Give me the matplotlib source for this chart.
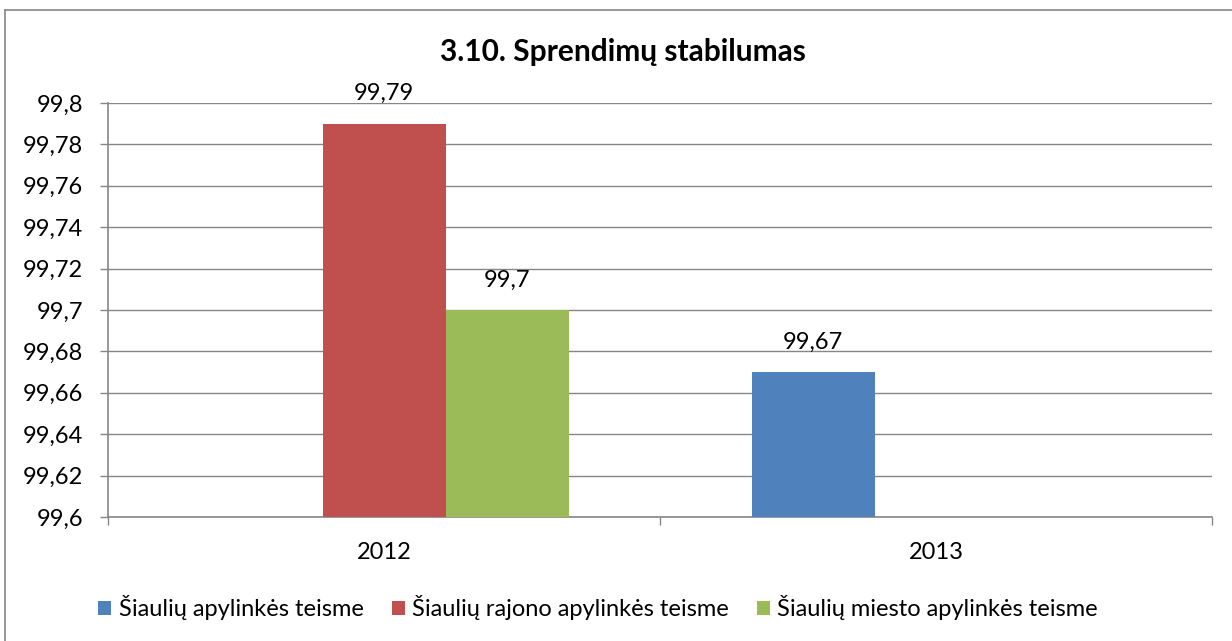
import numpy as np
import matplotlib
matplotlib.use("Agg")
import matplotlib.pyplot as plt
from matplotlib.lines import Line2D
from matplotlib.patches import Patch
from matplotlib.ticker import FixedLocator, FuncFormatter

plt.rcParams['font.family'] = ['Lato', 'DejaVu Sans']

title = "3.10. Sprendimų stabilumas"
categories = ["2012", "2013"]
series_names = ["Šiaulių apylinkės teisme",
                "Šiaulių rajono apylinkės teisme",
                "Šiaulių miesto apylinkės teisme"]
apylinkes = [np.nan, 99.67]
rajono = [99.79, np.nan]
miesto = [99.70, np.nan]
y_ticks = [99.6, 99.62, 99.64, 99.66, 99.68, 99.7, 99.72, 99.74, 99.76, 99.78, 99.8]
colors = ["#4F81BD", "#C0504D", "#9BBB59"]

W, H = 1232, 641
fig = plt.figure(figsize=(W / 100, H / 100), dpi=100)
fig.patch.set_facecolor("white")

# outer chart border (cropped on right/bottom)
grid_col = "#868686"
fig.add_artist(Line2D([5 / W, 1.0], [1 - 10 / H, 1 - 10 / H], transform=fig.transFigure,
                      color=grid_col, lw=1.2))
fig.add_artist(Line2D([5 / W, 5 / W], [0, 1 - 10 / H], transform=fig.transFigure,
                      color=grid_col, lw=1.2))

ax = fig.add_axes([108 / W, (H - 517) / H, 1104 / W, 414 / H])
x = np.arange(len(categories))
bw = 123 / 552
all_series = [apylinkes, rajono, miesto]
for i, (vals, c) in enumerate(zip(all_series, colors)):
    xs = x + (i - 1) * bw
    ax.bar(xs, vals, width=bw, color=c, zorder=3, linewidth=0)
    for xx, v in zip(xs, vals):
        if np.isfinite(v):
            ax.annotate(f"{v:g}".replace(".", ","), (xx, v), xytext=(0, 17),
                        textcoords="offset points", ha="center", va="baseline",
                        fontsize=17, color="black")

ax.set_xlim(-0.5, len(categories) - 0.5)
ax.set_ylim(y_ticks[0], y_ticks[-1])

ax.yaxis.set_major_locator(FixedLocator(y_ticks))
ax.yaxis.set_major_formatter(FuncFormatter(
    lambda v, p: (f"{v:.2f}".rstrip("0").rstrip(".")).replace(".", ",")))
ax.grid(axis="y", color=grid_col, lw=1.0, zorder=0)

ax.set_xticks(x)
ax.set_xticklabels(categories)
ax.set_xticks(np.arange(-0.5, len(categories)), minor=True)
ax.tick_params(axis="x", which="major", length=0, pad=18, labelsize=17)
ax.tick_params(axis="x", which="minor", length=6, width=1.0, color=grid_col, direction="out")
ax.tick_params(axis="y", which="major", length=6, width=1.0, color=grid_col,
               direction="out", pad=12, labelsize=17)

for s in ["top", "right"]:
    ax.spines[s].set_visible(False)
for s in ["left", "bottom"]:
    ax.spines[s].set_color(grid_col)
    ax.spines[s].set_linewidth(1.2)
ax.set_axisbelow(True)

fig.text(623 / W, 1 - 52 / H, title, ha="center", va="center", fontsize=21.5,
         fontweight="bold", color="black")

handles = [Patch(facecolor=c, edgecolor="none") for c in colors]
fig.legend(handles, series_names, loc="center", bbox_to_anchor=(598 / W, 1 - 608 / H),
           ncol=3, frameon=False, fontsize=17, handlelength=0.55, handleheight=0.55,
           handletextpad=0.3, columnspacing=1.2, borderpad=0, borderaxespad=0)

fig.savefig("out.png", dpi=100)
